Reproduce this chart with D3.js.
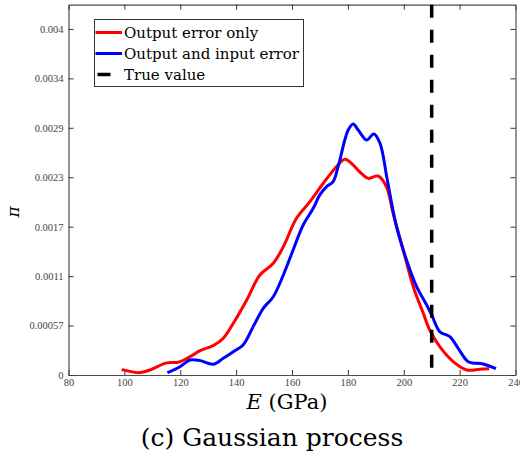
<!DOCTYPE html>
<html lang="en">
<head>
  <meta charset="UTF-8">
  <title>Gaussian process</title>
  <script src="https://d3js.org/d3.v7.min.js"></script>
  <style>
    body { margin: 0; background: #fff; }
    svg text { font-family: "DejaVu Serif", "Liberation Serif", serif; }
  </style>
</head>
<body>
  <div id="chart"></div>

  <script>
    // curve: E in GPa, density pi
    const redE  = [99, 101.5, 105, 109.2, 115.1, 119.3, 123.5, 127.1, 131.8, 135.4, 139, 143.8, 148.5, 153.3, 156.9, 161.6, 166.4, 171.2, 175.9, 178.9, 181.9, 184.5, 187.3, 190.8, 193.8, 196.2, 199.8, 203.4, 207, 209.3, 212.9, 217.7, 222.5, 227.2, 230.6];
    const redPi = [0.000062, 0.000045, 0.000027, 0.000058, 0.000140, 0.000148, 0.000212, 0.000281, 0.000339, 0.000424, 0.000598, 0.000867, 0.001156, 0.001291, 0.001483, 0.001811, 0.002003, 0.002216, 0.002408, 0.002493, 0.002427, 0.002340, 0.002273, 0.002300, 0.002176, 0.001869, 0.001445, 0.001021, 0.000713, 0.000520, 0.000327, 0.000154, 0.000058, 0.000066, 0.000073];

    const blueE  = [115.4, 119.9, 123.5, 127.1, 131.8, 135.4, 139, 142.5, 146.1, 149.7, 153.3, 156.9, 160.4, 164, 167.6, 170, 172.5, 174.7, 176.5, 178.9, 180.1, 181.9, 183.7, 186.7, 189.3, 191.5, 193.9, 195, 197.4, 201, 204.6, 208.2, 210, 212.9, 216.5, 219.5, 223.1, 228.4, 233];
    const bluePi = [0.000027, 0.000096, 0.000173, 0.000166, 0.000124, 0.000193, 0.000269, 0.000347, 0.000559, 0.000771, 0.000905, 0.001156, 0.001445, 0.001734, 0.001927, 0.002085, 0.002180, 0.002235, 0.002408, 0.002716, 0.002832, 0.002901, 0.002832, 0.002716, 0.002786, 0.002678, 0.002292, 0.002100, 0.001714, 0.001329, 0.001021, 0.000809, 0.000694, 0.000500, 0.000443, 0.000308, 0.000154, 0.000127, 0.000073];

    const trueE = 210;

    const xTicks = [80, 100, 120, 140, 160, 180, 200, 220, 240];
    const yTicks = [0, 0.004 / 7, 0.008 / 7, 0.012 / 7, 0.016 / 7, 0.020 / 7, 0.024 / 7, 0.004];
    const yTickLabels = ["0", "0.00057", "0.0011", "0.0017", "0.0023", "0.0029", "0.0034", "0.004"];

    const seriesNames = ["Output error only", "Output and input error", "True value"];
    const seriesColors = ["#ff0000", "#0000ff", "#000000"];

    const ancho = 520, alto = 457;
    const izq = 68.5, der = 515.5, sup = 4.7, inf = 375;

    const svg = d3.select("#chart").append("svg")
      .attr("width", ancho)
      .attr("height", alto);

    const x = d3.scaleLinear().domain([80, 240]).range([izq, der]);
    const y = d3.scaleLinear().domain([0, 0.00428]).range([inf, sup]);

    // ejes con marcas hacia dentro, tambien arriba y a la derecha
    const ejeX = svg.append("g")
      .attr("transform", `translate(0, ${inf})`)
      .call(d3.axisBottom(x).tickValues(xTicks).tickSizeInner(-5).tickSizeOuter(0).tickPadding(4).tickFormat(d3.format("d")));
    const ejeY = svg.append("g")
      .attr("transform", `translate(${izq}, 0)`)
      .call(d3.axisLeft(y).tickValues(yTicks).tickSizeInner(-5).tickSizeOuter(0).tickPadding(5)
        .tickFormat((d, i) => yTickLabels[i]));
    const ejeTop = svg.append("g")
      .attr("transform", `translate(0, ${sup})`)
      .call(d3.axisTop(x).tickValues(xTicks).tickSizeInner(-5).tickSizeOuter(0).tickFormat(""));
    const ejeDer = svg.append("g")
      .attr("transform", `translate(${der}, 0)`)
      .call(d3.axisRight(y).tickValues(yTicks).tickSizeInner(-5).tickSizeOuter(0).tickFormat(""));

    [ejeX, ejeY, ejeTop, ejeDer].forEach(g => {
      g.select(".domain").attr("stroke", "#4d4d4d").attr("stroke-width", 1.2);
      g.selectAll(".tick line").attr("stroke", "#333");
      g.selectAll("text").attr("fill", "#444").style("font-size", "10.5px")
        .style("font-family", '"Liberation Serif", serif');
    });

    const linea = d3.line()
      .x(d => x(d[0]))
      .y(d => y(d[1]))
      .curve(d3.curveCatmullRom.alpha(0.5));

    svg.append("path")
      .datum(redE.map((e, i) => [e, redPi[i]]))
      .attr("fill", "none")
      .attr("stroke", seriesColors[0])
      .attr("stroke-width", 3)
      .attr("d", linea);

    svg.append("path")
      .datum(blueE.map((e, i) => [e, bluePi[i]]))
      .attr("fill", "none")
      .attr("stroke", seriesColors[1])
      .attr("stroke-width", 3)
      .attr("d", linea);

    svg.append("line")
      .attr("x1", x(trueE)).attr("x2", x(trueE))
      .attr("y1", sup).attr("y2", inf)
      .attr("stroke", seriesColors[2])
      .attr("stroke-width", 3.5)
      .attr("stroke-dasharray", "13,12");

    // leyenda
    const ley = svg.append("g");
    ley.append("rect")
      .attr("x", 94.5).attr("y", 19.5)
      .attr("width", 209).attr("height", 67)
      .attr("fill", "#fff")
      .attr("stroke", "#333")
      .attr("stroke-width", 1);

    seriesNames.forEach((name, i) => {
      const yy = 32.5 + i * 21;
      ley.append("line")
        .attr("x1", i < 2 ? 95.5 : 97.5)
        .attr("x2", i < 2 ? 122 : 110.5)
        .attr("y1", yy).attr("y2", yy)
        .attr("stroke", seriesColors[i])
        .attr("stroke-width", i < 2 ? 3 : 3.5);
      ley.append("text")
        .attr("x", 124)
        .attr("y", yy + 5)
        .attr("fill", "#000")
        .style("font-size", "15px")
        .text(name);
    });

    // etiquetas
    svg.append("text")
      .attr("x", 287).attr("y", 409)
      .attr("text-anchor", "middle")
      .style("font-size", "21px")
      .html('<tspan font-style="italic">E</tspan> (GPa)');

    svg.append("text")
      .attr("transform", "translate(19, 212) rotate(-90)")
      .attr("text-anchor", "middle")
      .style("font-size", "17px")
      .style("font-style", "italic")
      .text("π");

    svg.append("text")
      .attr("x", 272).attr("y", 446)
      .attr("text-anchor", "middle")
      .style("font-size", "25px")
      .text("(c) Gaussian process");
  </script>
</body>
</html>
